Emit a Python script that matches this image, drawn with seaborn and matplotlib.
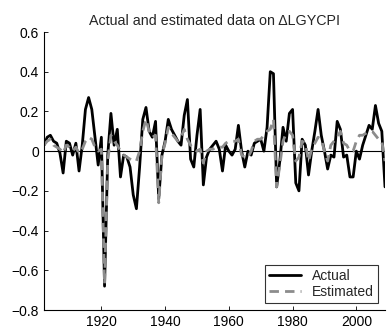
import matplotlib
matplotlib.use("Agg")
import matplotlib.pyplot as plt
import seaborn as sns
import pandas as pd
import numpy as np

years = list(range(1902, 2010))

actual = [
    0.03, 0.07, 0.08, 0.05, 0.04, -0.01, -0.11, 0.05, 0.04, -0.02,   # 1902-1911
    0.04, -0.10, 0.03, 0.21, 0.27, 0.21, 0.07, -0.07, 0.07, -0.68,   # 1912-1921
    -0.02, 0.19, 0.03, 0.11, -0.13, -0.02, -0.03, -0.08, -0.22, -0.29,  # 1922-1931
    -0.08, 0.16, 0.22, 0.10, 0.07, 0.15, -0.24, -0.02, 0.05, 0.16,   # 1932-1941
    0.11, 0.08, 0.05, 0.03, 0.18, 0.26, -0.04, -0.08, 0.08, 0.21,    # 1942-1951
    -0.17, -0.03, 0.01, 0.03, 0.05, 0.01, -0.10, 0.03, 0.00, -0.02,  # 1952-1961
    0.01, 0.13, 0.00, -0.08, 0.00, -0.02, 0.04, 0.05, 0.06, 0.00,    # 1962-1971
    0.12, 0.40, 0.39, -0.18, -0.05, 0.12, 0.05, 0.19, 0.21, -0.16,   # 1972-1981
    -0.20, 0.06, 0.03, -0.12, 0.00, 0.10, 0.21, 0.08, 0.00, -0.09,   # 1982-1991
    -0.02, -0.03, 0.15, 0.11, -0.03, -0.02, -0.13, -0.13, 0.00, -0.04,  # 1992-2001
    0.03, 0.08, 0.13, 0.11, 0.23, 0.14, 0.10, -0.18,                 # 2002-2009
]

estimated = [
    0.03, 0.05, 0.06, 0.03, 0.02, 0.01, -0.01, 0.03, 0.02, 0.00,     # 1902-1911
    0.02, -0.01, 0.01, 0.05, 0.07, 0.06, 0.02, 0.00, 0.01, -0.67,    # 1912-1921
    -0.05, 0.08, 0.05, 0.03, 0.00, -0.02, -0.03, -0.04, -0.05, -0.05,  # 1922-1931
    0.00, 0.10, 0.16, 0.10, 0.07, 0.08, -0.26, -0.02, 0.04, 0.12,    # 1932-1941
    0.09, 0.07, 0.05, 0.07, 0.11, 0.06, 0.03, 0.01, 0.00, 0.01,      # 1942-1951
    -0.06, 0.00, 0.01, 0.01, 0.02, 0.02, 0.02, 0.04, 0.05, 0.05,     # 1952-1961
    0.05, 0.06, -0.02, -0.03, -0.03, 0.00, 0.05, 0.06, 0.06, 0.08,   # 1962-1971
    0.10, 0.11, 0.16, -0.18, -0.07, 0.05, 0.09, 0.10, 0.08, -0.05,   # 1972-1981
    -0.03, 0.05, 0.04, -0.05, 0.01, 0.04, 0.07, 0.06, 0.00, -0.05,   # 1982-1991
    0.03, 0.05, 0.07, 0.10, 0.04, 0.03, 0.00, 0.00, 0.05, 0.08,      # 1992-2001
    0.08, 0.09, 0.10, 0.10, 0.08, 0.06, 0.05, -0.05,                 # 2002-2009
]

series_names = ["Actual", "Estimated"]
title = "Actual and estimated data on \u0394LGYCPI"
yticks = [-0.8, -0.6, -0.4, -0.2, 0, 0.2, 0.4, 0.6]
ytick_labels = ["\u22120.8", "\u22120.6", "\u22120.4", "\u22120.2", "0", "0.2", "0.4", "0.6"]
xticks = [1920, 1940, 1960, 1980, 2000]

df = pd.DataFrame({
    "year": years * 2,
    "value": actual + estimated,
    "series": [series_names[0]] * len(years) + [series_names[1]] * len(years),
})

sns.set_style("white")
plt.rcParams["font.family"] = ["Liberation Sans", "DejaVu Sans"]

fig = plt.figure(figsize=(3.87, 3.35), dpi=100)
ax = fig.add_axes([44 / 387, 1 - 310 / 335, (385 - 44) / 387, (310 - 32) / 335])

ax.axhline(0, color="black", linewidth=0.8, zorder=1)

sns.lineplot(data=df, x="year", y="value", hue="series", style="series",
             palette={"Actual": "black", "Estimated": "#8c8c8c"},
             dashes={"Actual": "", "Estimated": (3.4, 2.2)},
             linewidth=2.0, ax=ax, legend=True)

ax.set_xlim(years[0], years[-1])
ax.set_ylim(-0.8, 0.6)
ax.set_xticks(xticks)
ax.set_xticklabels([str(t) for t in xticks])
ax.set_yticks(yticks)
ax.set_yticklabels(ytick_labels)
ax.set_xlabel("")
ax.set_ylabel("")
ax.set_title(title, fontsize=10.3, pad=5)

for side in ["top", "right"]:
    ax.spines[side].set_visible(False)
for side in ["left", "bottom"]:
    ax.spines[side].set_color("black")
    ax.spines[side].set_linewidth(0.8)
ax.tick_params(axis="both", direction="in", length=3, width=0.6,
               labelsize=10, colors="black", bottom=True, left=True)

leg = ax.legend(loc="lower right", frameon=True, fancybox=False,
                edgecolor="black", fontsize=10, handlelength=2.3,
                borderpad=0.3, labelspacing=0.15, borderaxespad=0.5)
leg.get_frame().set_linewidth(0.8)

fig.savefig("out.png", dpi=100)
